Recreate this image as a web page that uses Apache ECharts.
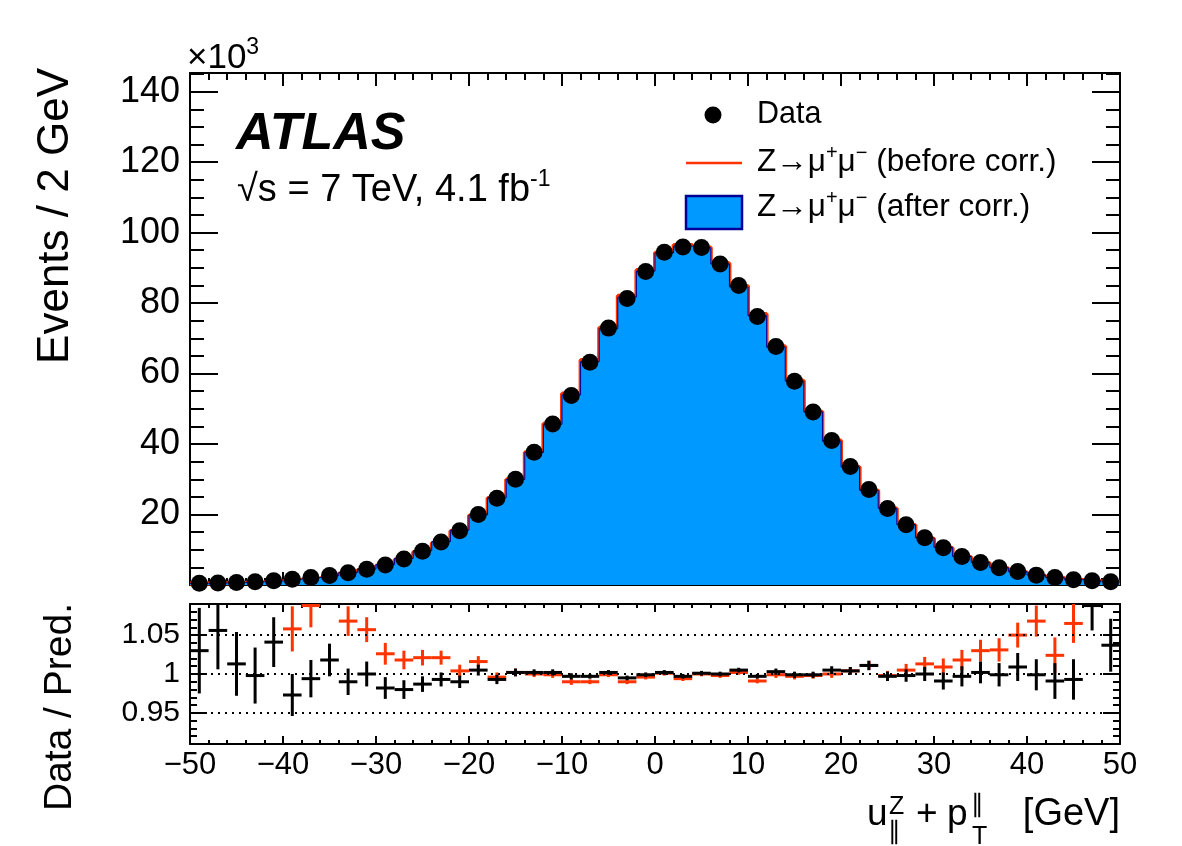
<!DOCTYPE html>
<html><head><meta charset="utf-8">
<script src="https://cdn.jsdelivr.net/npm/echarts@6/dist/echarts.min.js"></script>
<style>html,body{margin:0;padding:0;background:#fff}#c{width:1182px;height:846px}</style>
</head><body><div id="c"></div>
<script>
// ---- data (Events in units of 10^3, bins of 2 GeV) ----
const binCenters = [-49,-47,-45,-43,-41,-39,-37,-35,-33,-31,-29,-27,-25,-23,-21,-19,-17,-15,-13,-11,-9,-7,-5,-3,-1,1,3,5,7,9,11,13,15,17,19,21,23,25,27,29,31,33,35,37,39,41,43,45,47,49];
const dataCounts = [0.5,0.6,0.7,0.9,1.2,1.6,2.1,2.7,3.5,4.5,5.7,7.4,9.6,12.2,15.4,20.0,24.6,30.0,37.7,45.7,53.8,63.2,72.9,81.3,89.0,94.4,95.9,95.8,91.1,85.0,76.2,67.7,57.8,49.1,41.0,33.6,27.1,21.7,17.1,13.4,10.6,8.1,6.4,4.9,3.8,2.8,2.1,1.5,1.2,0.9];
const mcAfter = [0.49,0.57,0.69,0.90,1.15,1.64,2.11,2.65,3.54,4.50,5.80,7.55,9.73,12.29,15.56,19.90,24.77,29.94,37.62,45.61,53.96,63.39,72.75,81.71,89.09,94.21,96.19,95.70,91.10,84.58,76.43,67.50,57.86,49.15,40.80,33.47,26.81,21.77,17.13,13.40,10.70,8.12,6.39,4.90,3.77,2.80,2.12,1.51,1.10,0.87];
const mcBefore = [0.43,0.52,0.61,0.80,1.06,1.51,1.93,2.41,3.28,4.26,5.56,7.27,9.40,11.95,15.34,19.69,24.70,29.94,37.70,45.75,54.34,63.84,72.97,82.12,89.36,94.31,96.48,95.80,91.28,84.83,76.89,67.77,57.97,49.20,41.00,33.47,26.81,21.74,17.01,13.23,10.51,7.96,6.21,4.75,3.62,2.62,2.05,1.41,1.05,0.78];
const ratioAfter = [1.030,1.056,1.013,0.998,1.041,0.973,0.994,1.018,0.990,1.000,0.982,0.980,0.987,0.993,0.990,1.005,0.993,1.002,1.002,1.002,0.997,0.997,1.002,0.995,0.999,1.002,0.997,1.001,1.000,1.005,0.997,1.003,0.999,0.999,1.005,1.004,1.011,0.997,0.998,1.000,0.991,0.997,1.002,0.999,1.009,0.999,0.991,0.993,1.088,1.037];
const ratioAfterErr = [0.055,0.050,0.041,0.036,0.032,0.027,0.024,0.021,0.017,0.016,0.014,0.012,0.010,0.009,0.008,0.007,0.006,0.005,0.004,0.004,0.004,0.003,0.003,0.003,0.003,0.003,0.003,0.003,0.003,0.003,0.003,0.004,0.004,0.004,0.005,0.005,0.006,0.006,0.008,0.009,0.011,0.013,0.014,0.015,0.018,0.020,0.023,0.026,0.032,0.034];
const ratioBefore = [1.16,1.15,1.14,1.13,1.13,1.058,1.088,1.12,1.068,1.057,1.026,1.018,1.021,1.021,1.004,1.016,0.996,1.002,1.000,0.999,0.990,0.990,0.999,0.990,0.996,1.001,0.994,1.000,0.998,1.002,0.991,0.999,0.997,0.998,1.000,1.004,1.011,0.998,1.005,1.013,1.009,1.018,1.030,1.031,1.050,1.068,1.024,1.065,1.14,1.16];
const ratioBeforeErr = [0.058,0.053,0.044,0.038,0.034,0.029,0.028,0.022,0.019,0.016,0.014,0.012,0.010,0.009,0.008,0.007,0.006,0.005,0.004,0.004,0.004,0.003,0.003,0.003,0.003,0.003,0.003,0.003,0.003,0.003,0.003,0.004,0.004,0.004,0.005,0.005,0.006,0.006,0.008,0.009,0.011,0.013,0.014,0.015,0.016,0.020,0.023,0.025,0.032,0.036];
const xTickLabels = [-50,-40,-30,-20,-10,0,10,20,30,40,50];
const mainYTickLabels = [20,40,60,80,100,120,140];
const ratioYTickLabels = [0.95,1,1.05];

// ---- helpers ----
const BIN_HALF = 1;
const FONT = "'Liberation Sans', Arial, Helvetica, sans-serif";
const RED = '#ff3300', BLUE = '#0099ff', NAVY = '#000099';
const mctx = document.createElement('canvas').getContext('2d');
function textW(t, size, weight, style){ mctx.font = (style||'normal')+' '+(weight||'normal')+' '+size+'px '+FONT; return mctx.measureText(t).width; }
function txt(x, baseline, t, size, extra){
  extra = extra || {};
  return {type:'text', x:x, y:baseline - 0.33*size, rotation: extra.rotation||0, z:100,
    style:{text:t, fontSize:size, fontFamily:FONT, fontWeight:extra.weight||'normal', fontStyle:extra.style||'normal',
      fill:'#000', align:extra.align||'left', verticalAlign:'middle'}};
}
function seq(x, baseline, pieces){
  const out = []; let cx = x;
  pieces.forEach(p => { out.push(txt(cx, baseline + (p[2]||0), p[0], p[1])); cx += textW(p[0], p[1]); });
  return out;
}
function stepPoints(vals){
  const pts = binCenters.map((c,i)=>[c-BIN_HALF, vals[i]]);
  pts.push([binCenters[binCenters.length-1]+BIN_HALF, vals[vals.length-1]]);
  return pts;
}
function crossRenderer(color){
  return function(params, api){
    const cs = params.coordSys; const top = cs.y, bot = cs.y + cs.height;
    const x = api.value(0), y = api.value(1), e = api.value(2);
    const pL = api.coord([x-BIN_HALF, y]), pR = api.coord([x+BIN_HALF, y]);
    const pT = api.coord([x, y+e]), pB = api.coord([x, y-e]);
    const ch = [];
    const y1 = Math.max(top, Math.min(bot, pT[1])), y2 = Math.max(top, Math.min(bot, pB[1]));
    if (y2 - y1 > 0.5) ch.push({type:'line', shape:{x1:pT[0], y1:y1, x2:pB[0], y2:y2}, style:{stroke:color, lineWidth:3}});
    if (pL[1] >= top && pL[1] <= bot) ch.push({type:'line', shape:{x1:pL[0], y1:pL[1], x2:pR[0], y2:pR[1]}, style:{stroke:color, lineWidth:3}});
    return {type:'group', children:ch};
  };
}
const lineStyleK = {color:'#000', width:2};
function xAx(grid, pos, major, minor, labels){
  return {type:'value', gridIndex:grid, position:pos, min:-50, max:50, interval:10,
    axisLine:{show:true, onZero:false, lineStyle:lineStyleK},
    axisTick:{show:true, inside:true, length:major, lineStyle:lineStyleK},
    minorTick:{show:true, splitNumber:5, length:minor, lineStyle:lineStyleK},
    splitLine:{show:false}, minorSplitLine:{show:false},
    axisLabel:{show:!!labels, fontSize:31, fontFamily:FONT, color:'#000', margin:6,
      customValues: xTickLabels,
      formatter: v => v < 0 ? '\u2212' + (-v) : String(v)}};
}
function yAx(grid, pos, min, max, interval, len){
  return {type:'value', gridIndex:grid, position:pos, min:min, max:max, interval:interval,
    axisLine:{show:true, onZero:false, lineStyle:lineStyleK},
    axisTick:{show:true, inside:true, length:len, lineStyle:lineStyleK},
    splitLine:{show:false}, axisLabel:{show:false}};
}
function yMajor(grid, pos, min, max, vals, len, labelSize, fmt){
  return {type:'value', gridIndex:grid, position:pos, min:min, max:max,
    axisLine:{show:false, onZero:false},
    axisTick:{show:true, inside:true, length:len, customValues:vals, lineStyle:lineStyleK},
    splitLine:{show:false},
    axisLabel:{show:!!labelSize, customValues:vals, fontSize:labelSize||10, fontFamily:FONT, color:'#000', margin:10, formatter:fmt}};
}
const MAIN_MAX = 145.3;

const chart = echarts.init(document.getElementById('c'), null, {renderer:'canvas'});
const graphics = [];
graphics.push(...seq(187, 70, [['\u00d710', 35], ['3', 23, -15]]));
graphics.push(txt(236, 152, 'ATLAS', 52, {weight:'bold', style:'italic'}));
graphics.push(...seq(237, 203, [['\u221as = 7 TeV, 4.1 fb', 38], ['-1', 23, -16]]));
// legend
graphics.push({type:'circle', shape:{cx:713, cy:115, r:8.5}, style:{fill:'#000'}, z:100});
graphics.push(txt(757, 125, 'Data', 30.5));
graphics.push({type:'line', shape:{x1:686, y1:163, x2:742, y2:163}, style:{stroke:RED, lineWidth:2.5}, z:100});
graphics.push(...seq(757, 173, [['Z\u2192\u03bc', 31.5], ['+', 20, -13], ['\u03bc', 31.5], ['\u2212', 20, -13], [' (before corr.)', 31.5]]));
graphics.push({type:'rect', shape:{x:686, y:196, width:56, height:33}, style:{fill:BLUE, stroke:NAVY, lineWidth:2.5}, z:100});
graphics.push(...seq(757, 218, [['Z\u2192\u03bc', 31.5], ['+', 20, -13], ['\u03bc', 31.5], ['\u2212', 20, -13], [' (after corr.)', 31.5]]));
// y titles
graphics.push({type:'text', x:56, y:68, rotation:Math.PI/2, z:100, style:{text:'Events / 2 GeV', fontSize:44, fontFamily:FONT, fill:'#000', align:'right', verticalAlign:'middle'}});
graphics.push({type:'text', x:60, y:603, rotation:Math.PI/2, z:100, style:{text:'Data / Pred.', fontSize:39, fontFamily:FONT, fill:'#000', align:'right', verticalAlign:'middle'}});
// x title
graphics.push(txt(867, 827, 'u', 37));
graphics.push(txt(889, 815, 'Z', 25));
graphics.push(txt(888, 840, '\u2225', 25));
graphics.push(txt(916, 827, '+', 37));
graphics.push(txt(947, 827, 'p', 37));
graphics.push(txt(971, 813, '\u2225', 25));
graphics.push(txt(972, 845, 'T', 25));
graphics.push(txt(1120, 827, '[GeV]', 38, {align:'right'}));

chart.setOption({
  animation:false,
  backgroundColor:'#fff',
  textStyle:{fontFamily:FONT},
  grid:[{left:190, top:73, width:930, height:512, containLabel:false},
        {left:190, top:604, width:930, height:140, containLabel:false}],
  xAxis:[xAx(0,'bottom',13,7,false), xAx(0,'top',13,7,false), xAx(1,'bottom',8,4,true), xAx(1,'top',8,4,false)],
  yAxis:[
    yAx(0,'left',0,MAIN_MAX,5,14), yAx(0,'right',0,MAIN_MAX,5,14),
    yMajor(0,'left',0,MAIN_MAX,mainYTickLabels,28,36,v=>String(v)),
    yMajor(0,'right',0,MAIN_MAX,mainYTickLabels,28,0),
    yAx(1,'left',0.91,1.09,0.01,7), yAx(1,'right',0.91,1.09,0.01,7),
    yMajor(1,'left',0.91,1.09,ratioYTickLabels,17,30,v=>Math.abs(v-1)<1e-9?'1':v.toFixed(2)),
    yMajor(1,'right',0.91,1.09,ratioYTickLabels,17,0)
  ],
  series:[
    {name:'before', type:'line', xAxisIndex:0, yAxisIndex:0, step:'end', data:stepPoints(mcBefore),
     symbol:'none', lineStyle:{color:RED, width:4}, z:2, silent:true},
    {name:'after', type:'line', xAxisIndex:0, yAxisIndex:0, step:'end', data:stepPoints(mcAfter),
     symbol:'none', lineStyle:{color:NAVY, width:1}, areaStyle:{color:BLUE, opacity:1}, z:3, silent:true},
    {name:'Data', type:'scatter', xAxisIndex:0, yAxisIndex:0, data:binCenters.map((c,i)=>[c,dataCounts[i]]),
     symbol:'circle', symbolSize:17, itemStyle:{color:'#000', opacity:1}, z:4, silent:true},
    {name:'ratioBefore', type:'custom', xAxisIndex:2, yAxisIndex:4, encode:{x:0,y:1}, z:3, silent:true,
     data:binCenters.map((c,i)=>[c,ratioBefore[i],ratioBeforeErr[i]]), renderItem:crossRenderer(RED),
     markLine:{silent:true, symbol:'none', label:{show:false}, animation:false,
       lineStyle:{color:'#000', type:[2,5], width:2}, data:ratioYTickLabels.map(v=>({yAxis:v}))}},
    {name:'ratioAfter', type:'custom', xAxisIndex:2, yAxisIndex:4, encode:{x:0,y:1}, z:4, silent:true,
     data:binCenters.map((c,i)=>[c,ratioAfter[i],ratioAfterErr[i]]), renderItem:crossRenderer('#000')}
  ],
  graphic:graphics
});
</script></body></html>
